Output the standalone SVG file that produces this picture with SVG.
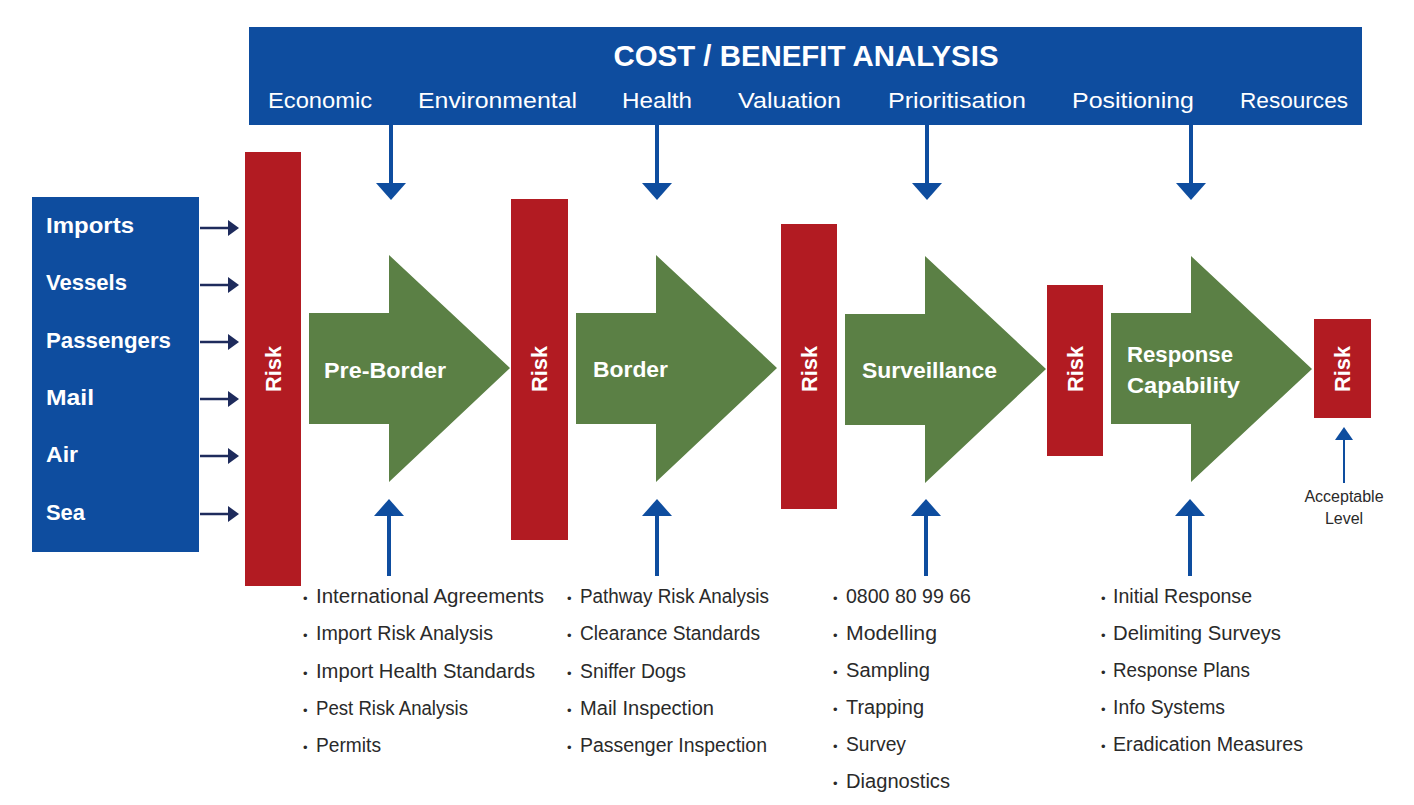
<svg xmlns="http://www.w3.org/2000/svg" width="1414" height="805" viewBox="0 0 1414 805">
<style>
.bg{fill:#ffffff}
.blue{fill:#0e4d9f}
.red{fill:#b21b22}
.green{fill:#5b8045}
.wb{font-family:"Liberation Sans",Arial,sans-serif;font-weight:bold;fill:#ffffff}
.wr{font-family:"Liberation Sans",Arial,sans-serif;fill:#ffffff}
.lt{font-family:"Liberation Sans",Arial,sans-serif;fill:#2a2a2a;font-size:20px}
.bul{font-size:13px}
.ca{stroke:#0e4d9f;stroke-width:4;fill:none}
.cah{fill:#0e4d9f}
.na{stroke:#1e2b5c;stroke-width:2.5;fill:none}
.nah{fill:#1e2b5c}
</style>
<rect class="bg" x="0" y="0" width="1414" height="805"/>

<g id="cost-benefit">
<rect class="blue" x="249" y="27" width="1113" height="98"/>
<text class="wb" x="806" y="66" font-size="30" text-anchor="middle" textLength="385" lengthAdjust="spacingAndGlyphs">COST / BENEFIT ANALYSIS</text>
<text class="wr" x="268" y="108" font-size="22" textLength="104" lengthAdjust="spacingAndGlyphs">Economic</text>
<text class="wr" x="418" y="108" font-size="22" textLength="159" lengthAdjust="spacingAndGlyphs">Environmental</text>
<text class="wr" x="622" y="108" font-size="22" textLength="70" lengthAdjust="spacingAndGlyphs">Health</text>
<text class="wr" x="738" y="108" font-size="22" textLength="103" lengthAdjust="spacingAndGlyphs">Valuation</text>
<text class="wr" x="888" y="108" font-size="22" textLength="138" lengthAdjust="spacingAndGlyphs">Prioritisation</text>
<text class="wr" x="1072" y="108" font-size="22" textLength="122" lengthAdjust="spacingAndGlyphs">Positioning</text>
<text class="wr" x="1240" y="108" font-size="22" textLength="108" lengthAdjust="spacingAndGlyphs">Resources</text>
</g>

<g id="pathways">
<rect class="blue" x="32" y="197" width="167" height="355"/>
<text class="wb" x="46" y="233" font-size="22" textLength="88" lengthAdjust="spacingAndGlyphs">Imports</text>
<text class="wb" x="46" y="290" font-size="22" textLength="81" lengthAdjust="spacingAndGlyphs">Vessels</text>
<text class="wb" x="46" y="348" font-size="22" textLength="125" lengthAdjust="spacingAndGlyphs">Passengers</text>
<text class="wb" x="46" y="405" font-size="22" textLength="48" lengthAdjust="spacingAndGlyphs">Mail</text>
<text class="wb" x="46" y="462" font-size="22" textLength="32" lengthAdjust="spacingAndGlyphs">Air</text>
<text class="wb" x="46" y="520" font-size="22" textLength="39" lengthAdjust="spacingAndGlyphs">Sea</text>
</g>

<g id="risk1"><rect class="red" x="245" y="152" width="56" height="434"/>
<text class="wb" font-size="22" text-anchor="middle" transform="translate(281,369) rotate(-90)" textLength="46" lengthAdjust="spacingAndGlyphs">Risk</text></g>
<g id="risk2"><rect class="red" x="511" y="199" width="57" height="341"/>
<text class="wb" font-size="22" text-anchor="middle" transform="translate(547,369) rotate(-90)" textLength="46" lengthAdjust="spacingAndGlyphs">Risk</text></g>
<g id="risk3"><rect class="red" x="781" y="224" width="56" height="285"/>
<text class="wb" font-size="22" text-anchor="middle" transform="translate(817,369) rotate(-90)" textLength="46" lengthAdjust="spacingAndGlyphs">Risk</text></g>
<g id="risk4"><rect class="red" x="1047" y="285" width="56" height="171"/>
<text class="wb" font-size="22" text-anchor="middle" transform="translate(1083,369) rotate(-90)" textLength="46" lengthAdjust="spacingAndGlyphs">Risk</text></g>
<g id="risk5"><rect class="red" x="1314" y="319" width="57" height="99"/>
<text class="wb" font-size="22" text-anchor="middle" transform="translate(1350,369) rotate(-90)" textLength="46" lengthAdjust="spacingAndGlyphs">Risk</text></g>

<g id="pre-border"><polygon class="green" points="309,313 389,313 389,255 510,368 389,482 389,424 309,424"/>
<text class="wb" x="324" y="378" font-size="22" textLength="122" lengthAdjust="spacingAndGlyphs">Pre-Border</text></g>
<g id="border"><polygon class="green" points="576,313 656,313 656,255 777,368 656,482 656,424 576,424"/>
<text class="wb" x="593" y="377" font-size="22" textLength="75" lengthAdjust="spacingAndGlyphs">Border</text></g>
<g id="surveillance"><polygon class="green" points="845,314 925,314 925,256 1046,369 925,483 925,425 845,425"/>
<text class="wb" x="862" y="378" font-size="22" textLength="135" lengthAdjust="spacingAndGlyphs">Surveillance</text></g>
<g id="response"><polygon class="green" points="1111,313 1191,313 1191,256 1312,369 1191,482 1191,424 1111,424"/>
<text class="wb" x="1127" y="362" font-size="22" textLength="106" lengthAdjust="spacingAndGlyphs">Response</text>
<text class="wb" x="1127" y="393" font-size="22" textLength="113" lengthAdjust="spacingAndGlyphs">Capability</text></g>

<g id="acceptable-level">
<text x="1344" y="502" font-family="Liberation Sans, Arial, sans-serif" font-size="16" fill="#2a2a2a" text-anchor="middle">Acceptable</text>
<text x="1344" y="524" font-family="Liberation Sans, Arial, sans-serif" font-size="16" fill="#2a2a2a" text-anchor="middle">Level</text>
</g>

<g id="pre-border-list" class="lt">
<text x="303" y="603"><tspan class="bul">•</tspan><tspan x="316" textLength="228" lengthAdjust="spacingAndGlyphs">International Agreements</tspan></text>
<text x="303" y="640"><tspan class="bul">•</tspan><tspan x="316" textLength="177" lengthAdjust="spacingAndGlyphs">Import Risk Analysis</tspan></text>
<text x="303" y="678"><tspan class="bul">•</tspan><tspan x="316" textLength="219" lengthAdjust="spacingAndGlyphs">Import Health Standards</tspan></text>
<text x="303" y="715"><tspan class="bul">•</tspan><tspan x="316" textLength="152" lengthAdjust="spacingAndGlyphs">Pest Risk Analysis</tspan></text>
<text x="303" y="752"><tspan class="bul">•</tspan><tspan x="316" textLength="65" lengthAdjust="spacingAndGlyphs">Permits</tspan></text>
</g>
<g id="border-list" class="lt">
<text x="567" y="603"><tspan class="bul">•</tspan><tspan x="580" textLength="189" lengthAdjust="spacingAndGlyphs">Pathway Risk Analysis</tspan></text>
<text x="567" y="640"><tspan class="bul">•</tspan><tspan x="580" textLength="180" lengthAdjust="spacingAndGlyphs">Clearance Standards</tspan></text>
<text x="567" y="678"><tspan class="bul">•</tspan><tspan x="580" textLength="106" lengthAdjust="spacingAndGlyphs">Sniffer Dogs</tspan></text>
<text x="567" y="715"><tspan class="bul">•</tspan><tspan x="580" textLength="134" lengthAdjust="spacingAndGlyphs">Mail Inspection</tspan></text>
<text x="567" y="752"><tspan class="bul">•</tspan><tspan x="580" textLength="187" lengthAdjust="spacingAndGlyphs">Passenger Inspection</tspan></text>
</g>
<g id="surveillance-list" class="lt">
<text x="833" y="603"><tspan class="bul">•</tspan><tspan x="846" textLength="125" lengthAdjust="spacingAndGlyphs">0800 80 99 66</tspan></text>
<text x="833" y="640"><tspan class="bul">•</tspan><tspan x="846" textLength="91" lengthAdjust="spacingAndGlyphs">Modelling</tspan></text>
<text x="833" y="677"><tspan class="bul">•</tspan><tspan x="846" textLength="84" lengthAdjust="spacingAndGlyphs">Sampling</tspan></text>
<text x="833" y="714"><tspan class="bul">•</tspan><tspan x="846" textLength="78" lengthAdjust="spacingAndGlyphs">Trapping</tspan></text>
<text x="833" y="751"><tspan class="bul">•</tspan><tspan x="846" textLength="60" lengthAdjust="spacingAndGlyphs">Survey</tspan></text>
<text x="833" y="788"><tspan class="bul">•</tspan><tspan x="846" textLength="104" lengthAdjust="spacingAndGlyphs">Diagnostics</tspan></text>
</g>
<g id="response-list" class="lt">
<text x="1101" y="603"><tspan class="bul">•</tspan><tspan x="1113" textLength="139" lengthAdjust="spacingAndGlyphs">Initial Response</tspan></text>
<text x="1101" y="640"><tspan class="bul">•</tspan><tspan x="1113" textLength="168" lengthAdjust="spacingAndGlyphs">Delimiting Surveys</tspan></text>
<text x="1101" y="677"><tspan class="bul">•</tspan><tspan x="1113" textLength="137" lengthAdjust="spacingAndGlyphs">Response Plans</tspan></text>
<text x="1101" y="714"><tspan class="bul">•</tspan><tspan x="1113" textLength="112" lengthAdjust="spacingAndGlyphs">Info Systems</tspan></text>
<text x="1101" y="751"><tspan class="bul">•</tspan><tspan x="1113" textLength="190" lengthAdjust="spacingAndGlyphs">Eradication Measures</tspan></text>
</g>

<g id="connectors">
<line class="ca" x1="391" y1="125" x2="391" y2="185"/><polygon class="cah" points="376,183 406,183 391,200"/>
<line class="ca" x1="657" y1="125" x2="657" y2="185"/><polygon class="cah" points="642,183 672,183 657,200"/>
<line class="ca" x1="927" y1="125" x2="927" y2="185"/><polygon class="cah" points="912,183 942,183 927,200"/>
<line class="ca" x1="1191" y1="125" x2="1191" y2="185"/><polygon class="cah" points="1176,183 1206,183 1191,200"/>

<line class="ca" x1="389" y1="513" x2="389" y2="576"/><polygon class="cah" points="374,516 404,516 389,499"/>
<line class="ca" x1="657" y1="513" x2="657" y2="576"/><polygon class="cah" points="642,516 672,516 657,499"/>
<line class="ca" x1="926" y1="513" x2="926" y2="576"/><polygon class="cah" points="911,516 941,516 926,499"/>
<line class="ca" x1="1190" y1="513" x2="1190" y2="576"/><polygon class="cah" points="1175,516 1205,516 1190,499"/>

<line x1="1344" y1="437" x2="1344" y2="483" stroke="#0e4d9f" stroke-width="2"/><polygon class="cah" points="1335,440 1353,440 1344,427"/>

<line class="na" x1="200" y1="228" x2="231" y2="228"/><polygon class="nah" points="228,220 239,228 228,236"/>
<line class="na" x1="200" y1="285" x2="231" y2="285"/><polygon class="nah" points="228,277 239,285 228,293"/>
<line class="na" x1="200" y1="342" x2="231" y2="342"/><polygon class="nah" points="228,334 239,342 228,350"/>
<line class="na" x1="200" y1="399" x2="231" y2="399"/><polygon class="nah" points="228,391 239,399 228,407"/>
<line class="na" x1="200" y1="456" x2="231" y2="456"/><polygon class="nah" points="228,448 239,456 228,464"/>
<line class="na" x1="200" y1="514" x2="231" y2="514"/><polygon class="nah" points="228,506 239,514 228,522"/>
</g>
</svg>
